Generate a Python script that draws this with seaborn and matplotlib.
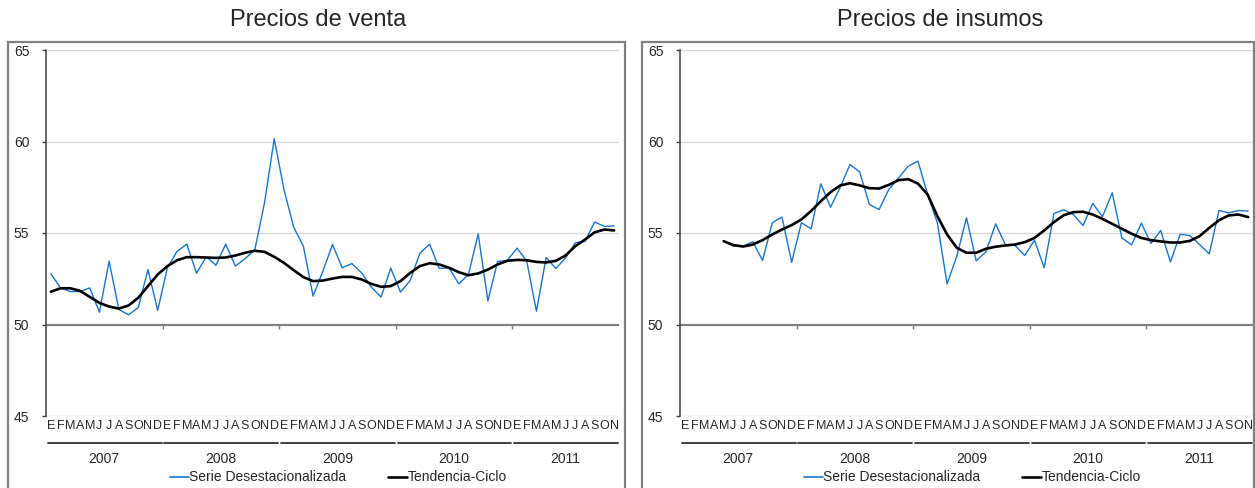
import numpy as np
import pandas as pd
import matplotlib
matplotlib.use('Agg')
import matplotlib.pyplot as plt
from matplotlib.patches import Rectangle
from matplotlib.lines import Line2D
import seaborn as sns

# Data (monthly, Jan 2007 - Nov 2011)
YEARS = ['2007', '2008', '2009', '2010', '2011']
MONTHS = ['E', 'F', 'M', 'A', 'M', 'J', 'J', 'A', 'S', 'O', 'N', 'D']
month_labels = MONTHS * 4 + MONTHS[:11]

venta_serie = [52.77, 52.0, 51.8, 51.8, 52.0, 50.67, 53.46, 50.82, 50.53, 50.93, 53.0, 50.78,
               53.1, 54.0, 54.39, 52.8, 53.7, 53.24, 54.39, 53.19, 53.6, 54.08, 56.65, 60.15,
               57.38, 55.32, 54.28, 51.55, 52.9, 54.37, 53.1, 53.33, 52.82, 52.04, 51.5, 53.08,
               51.77, 52.4, 53.9, 54.39, 53.06, 53.1, 52.22, 52.73, 54.95, 51.29, 53.44, 53.5,
               54.17, 53.46, 50.73, 53.66, 53.06, 53.64, 54.46, 54.55, 55.6, 55.36, 55.39]
venta_tendencia = [51.79, 51.98, 51.98, 51.84, 51.51, 51.18, 50.98, 50.87, 51.04, 51.46, 52.1, 52.73,
                   53.19, 53.51, 53.68, 53.68, 53.66, 53.64, 53.66, 53.77, 53.92, 54.03, 53.97, 53.7,
                   53.37, 52.97, 52.59, 52.37, 52.4, 52.51, 52.6, 52.6, 52.46, 52.22, 52.06, 52.1,
                   52.37, 52.82, 53.19, 53.35, 53.28, 53.1, 52.86, 52.69, 52.79, 53.0, 53.28, 53.48,
                   53.53, 53.51, 53.42, 53.39, 53.48, 53.77, 54.28, 54.64, 55.04, 55.19, 55.14]

nan = np.nan
insumos_serie = [nan, nan, nan, nan, 54.55, 54.28, 54.28, 54.52, 53.5, 55.56, 55.87, 53.4,
                 55.56, 55.23, 57.69, 56.41, 57.5, 58.74, 58.34, 56.56, 56.28, 57.38, 58.0, 58.65,
                 58.93, 57.1, 55.56, 52.22, 53.73, 55.83, 53.48, 53.97, 55.5, 54.37, 54.32, 53.77,
                 54.61, 53.1, 56.07, 56.27, 56.01, 55.41, 56.61, 55.89, 57.2, 54.73, 54.35, 55.54,
                 54.43, 55.14, 53.42, 54.93, 54.86, 54.37, 53.86, 56.23, 56.1, 56.23, 56.2]
insumos_tendencia = [nan, nan, nan, nan, 54.55, 54.34, 54.26, 54.37, 54.61, 54.92, 55.19, 55.43,
                     55.74, 56.2, 56.74, 57.23, 57.6, 57.72, 57.6, 57.45, 57.43, 57.63, 57.89, 57.94,
                     57.7, 57.1, 55.92, 54.92, 54.19, 53.92, 53.92, 54.14, 54.25, 54.32, 54.37, 54.5,
                     54.73, 55.14, 55.59, 55.97, 56.14, 56.16, 56.01, 55.77, 55.5, 55.23, 54.96, 54.73,
                     54.61, 54.54, 54.48, 54.48, 54.57, 54.83, 55.28, 55.7, 55.96, 56.01, 55.87]

SERIE = 'Serie Desestacionalizada'
TEND = 'Tendencia-Ciclo'
BLUE = '#1874cd'

sns.set_style('white')
plt.rcParams['font.family'] = ['Liberation Sans', 'DejaVu Sans']

W, H = 1255, 488
fig = plt.figure(figsize=(W / 100, H / 100), dpi=100)


def px_axes(x0, x1, ytop, ybot):
    return fig.add_axes([x0 / W, 1 - ybot / H, (x1 - x0) / W, (ybot - ytop) / H])


def draw_panel(ax, serie, tendencia):
    n = len(month_labels)
    df = pd.DataFrame({
        'mes': list(range(n)) * 2,
        'valor': list(serie) + list(tendencia),
        'tipo': [SERIE] * n + [TEND] * n,
    })
    sns.lineplot(data=df, x='mes', y='valor', hue='tipo', size='tipo',
                 hue_order=[SERIE, TEND], palette={SERIE: BLUE, TEND: 'black'},
                 sizes={SERIE: 1.0, TEND: 1.9}, legend=False, ax=ax)

    ax.set_xlim(-0.5, n - 0.5)
    ax.set_ylim(45, 65)
    ax.set_yticks([45, 50, 55, 60, 65])
    ax.set_xticks(range(n))
    ax.set_xticklabels(month_labels, fontsize=9)
    ax.set_xlabel('')
    ax.set_ylabel('')
    ax.tick_params(axis='x', length=0, pad=3)
    ax.tick_params(axis='y', length=3, width=1, color='#404040', pad=9, labelsize=10,
                   direction='out', left=True)
    ax.grid(axis='y', color='#d9d9d9', lw=1)
    ax.grid(axis='x', visible=False)
    for s in ['top', 'right', 'bottom']:
        ax.spines[s].set_visible(False)
    ax.spines['left'].set_color('#404040')
    ax.spines['left'].set_linewidth(1.1)

    # category axis crosses at 50, with year ticks
    ax.axhline(50, color='#808080', lw=1.5, zorder=1)
    bounds = [12 * k - 0.5 for k in range(1, len(YEARS))]
    ax.vlines(bounds, 49.78, 50, color='#808080', lw=1)

    # year groups under the month letters
    for k, yr in enumerate(YEARS):
        x0 = 12 * k - 0.5 + 0.2
        x1 = min(12 * k + 11.5, n - 0.5) - 0.1
        ax.add_line(Line2D([x0, x1], [-0.074, -0.074], color='#303030', lw=1.3,
                           transform=ax.get_xaxis_transform(), clip_on=False))
        ax.text((12 * k - 0.5 + min(12 * k + 11.5, n - 0.5)) / 2, -0.117, yr,
                transform=ax.get_xaxis_transform(), ha='center', va='center', fontsize=10)

    handles = [Line2D([], [], color=BLUE, lw=1.2), Line2D([], [], color='black', lw=1.9)]
    ax.legend(handles, [SERIE, TEND], loc='center', bbox_to_anchor=(0.51, -0.168),
              ncol=2, frameon=False, fontsize=10, handlelength=1.35, handletextpad=0.05,
              columnspacing=3.0, borderaxespad=0)


ax1 = px_axes(46, 619, 50, 416)
ax2 = px_axes(680, 1253, 50, 416)
draw_panel(ax1, venta_serie, venta_tendencia)
draw_panel(ax2, insumos_serie, insumos_tendencia)

# outer boxes around each chart
for x0, x1 in [(8, 625), (642, 1254)]:
    fig.patches.append(Rectangle((x0 / W, -0.1), (x1 - x0) / W, 1.1 - 42 / H,
                                 transform=fig.transFigure, fill=False,
                                 edgecolor='#7f7f7f', lw=1.6))

fig.text(318 / W, 1 - 20 / H, 'Precios de venta', ha='center', va='center', fontsize=17)
fig.text(940 / W, 1 - 20 / H, 'Precios de insumos', ha='center', va='center', fontsize=17)

fig.savefig('out.png', dpi=100)
